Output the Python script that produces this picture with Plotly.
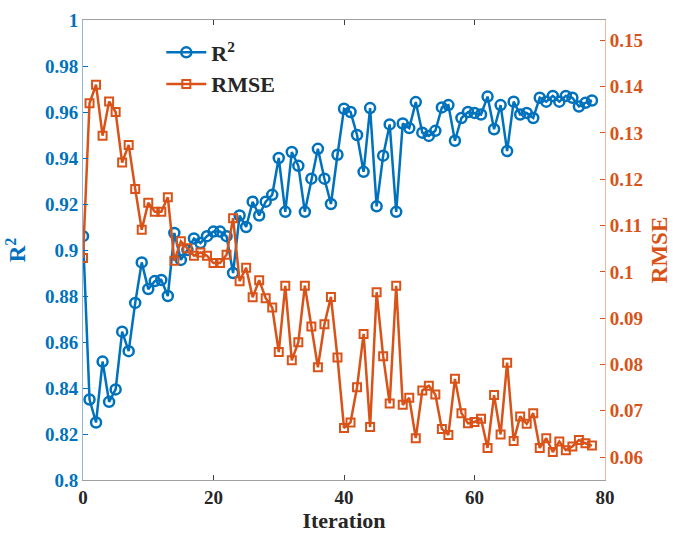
import plotly.graph_objects as go

iteration = list(range(79))

r2 = [0.906, 0.835, 0.825, 0.8515, 0.834, 0.8394, 0.8645, 0.856, 0.877, 0.8946,
      0.883, 0.8865, 0.887, 0.880, 0.9074, 0.8957, 0.900, 0.905, 0.903, 0.906,
      0.908, 0.908, 0.906, 0.890, 0.915, 0.910, 0.921, 0.915, 0.921, 0.924,
      0.940, 0.9166, 0.9426, 0.9366, 0.9166, 0.931, 0.944, 0.931, 0.920, 0.9414,
      0.9614, 0.960, 0.950, 0.934, 0.9617, 0.919, 0.941, 0.9546, 0.9166, 0.955,
      0.953, 0.9643, 0.951, 0.9496, 0.9518, 0.962, 0.963, 0.9475, 0.9574, 0.960,
      0.9596, 0.9589, 0.9667, 0.9525, 0.963, 0.943, 0.9645, 0.9589, 0.9596, 0.9574,
      0.9662, 0.9645, 0.967, 0.9645, 0.967, 0.9662, 0.9624, 0.964, 0.965]

rmse = [0.1030, 0.1364, 0.1404, 0.1294, 0.1368, 0.1345, 0.1236, 0.1274, 0.1179, 0.1091,
        0.1149, 0.1130, 0.1130, 0.1161, 0.1024, 0.1066, 0.1051, 0.1035, 0.1042, 0.1035,
        0.1019, 0.1019, 0.1037, 0.1116, 0.0980, 0.1009, 0.0945, 0.0982, 0.0943, 0.0923,
        0.0827, 0.0970, 0.0809, 0.0848, 0.0970, 0.0882, 0.0794, 0.0887, 0.0946, 0.0815,
        0.0663, 0.0675, 0.0751, 0.0866, 0.0665, 0.0956, 0.0818, 0.0716, 0.0970, 0.0713,
        0.0728, 0.0641, 0.0744, 0.0754, 0.0735, 0.0661, 0.0648, 0.0769, 0.0695, 0.0673,
        0.0676, 0.0683, 0.0620, 0.0734, 0.0649, 0.0804, 0.0635, 0.0688, 0.0672, 0.0695,
        0.0620, 0.0641, 0.0611, 0.0634, 0.0615, 0.0623, 0.0637, 0.0630, 0.0625]

x_ticks = [0, 20, 40, 60, 80]
left_ticks = [0.8, 0.82, 0.84, 0.86, 0.88, 0.9, 0.92, 0.94, 0.96, 0.98, 1]
right_ticks = [0.06, 0.07, 0.08, 0.09, 0.1, 0.11, 0.12, 0.13, 0.14, 0.15]

BLUE = "#0072BD"
ORANGE = "#D95319"
FONT = "Liberation Serif, Times New Roman, DejaVu Serif, serif"

fig = go.Figure()
fig.add_trace(go.Scatter(
    x=iteration, y=r2, name="R<sup>2</sup>", mode="lines+markers",
    line=dict(color=BLUE, width=2.5),
    marker=dict(symbol="circle-open", size=10, color=BLUE, line=dict(width=2.5)),
))
fig.add_trace(go.Scatter(
    x=iteration, y=rmse, name="RMSE", mode="lines+markers", yaxis="y2",
    line=dict(color=ORANGE, width=2.5),
    marker=dict(symbol="square-open", size=8, color=ORANGE, line=dict(width=2)),
))

fig.update_layout(
    width=679, height=537,
    margin=dict(l=83, r=74, t=10, b=57),
    plot_bgcolor="white", paper_bgcolor="white",
    font=dict(family=FONT, size=18, color="#262626"),
    showlegend=True,
    legend=dict(x=0.15, y=0.975, xanchor="left", yanchor="top",
                bgcolor="rgba(255,255,255,0)", borderwidth=0,
                font=dict(family=FONT, size=22, color="#262626", weight="bold"),
                tracegroupgap=0, itemwidth=40),
    xaxis=dict(
        range=[0, 80], tickvals=x_ticks, ticktext=[str(v) for v in x_ticks],
        showgrid=False, zeroline=False, ticklabeloverflow="allow",
        showline=True, linecolor="#a0a0a0", linewidth=1, mirror="ticks",
        ticks="inside", ticklen=5, tickcolor="#404040",
        tickfont=dict(family=FONT, size=19, color="#262626", weight="bold"),
        title=dict(text="Iteration", standoff=4,
                   font=dict(family=FONT, size=22, color="#262626", weight="bold")),
    ),
    yaxis=dict(
        range=[0.8, 1.0], tickvals=left_ticks,
        ticktext=[f"{v:g}" for v in left_ticks],
        showgrid=False, zeroline=False, ticklabeloverflow="allow",
        showline=True, linecolor="#8fb8d8", linewidth=1,
        ticks="inside", ticklen=5, tickcolor=BLUE,
        tickfont=dict(family=FONT, size=19, color=BLUE, weight="bold"),
        title=dict(text="R<sup>2</sup>", standoff=12,
                   font=dict(family=FONT, size=23, color=BLUE, weight="bold")),
    ),
    yaxis2=dict(
        range=[0.05507, 0.15437], tickvals=right_ticks,
        ticktext=[f"{v:g}" for v in right_ticks],
        overlaying="y", side="right", anchor="x",
        showgrid=False, zeroline=False, ticklabeloverflow="allow",
        showline=True, linecolor="#f0b7a0", linewidth=1,
        ticks="inside", ticklen=5, tickcolor=ORANGE,
        tickfont=dict(family=FONT, size=19, color=ORANGE, weight="bold"),
        title=dict(text="RMSE", standoff=8,
                   font=dict(family=FONT, size=23, color=ORANGE, weight="bold")),
    ),
)

fig.write_html("out.html")
